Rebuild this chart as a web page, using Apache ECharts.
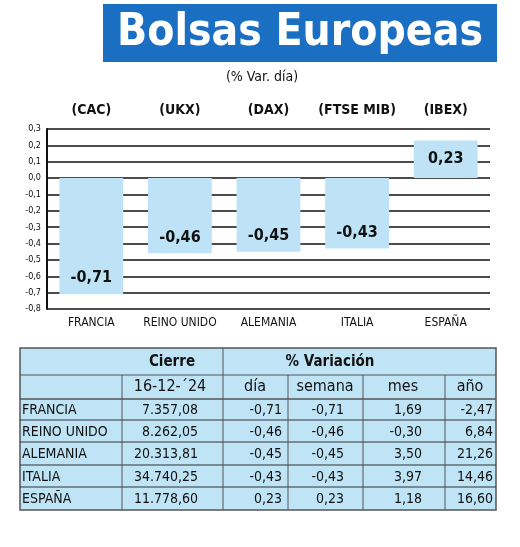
<!DOCTYPE html>
<html><head><meta charset="utf-8">
<script src="https://cdn.jsdelivr.net/npm/echarts@6/dist/echarts.min.js"></script>
<style>html,body{margin:0;background:#fff}#c{width:520px;height:547px}</style></head>
<body><div id="c"></div>
<script>
const countries = ['FRANCIA','REINO UNIDO','ALEMANIA','ITALIA','ESPAÑA'];
const indices = ['(CAC)','(UKX)','(DAX)','(FTSE MIB)','(IBEX)'];
const dayChange = [-0.71,-0.46,-0.45,-0.43,0.23];
const cierre = ['7.357,08','8.262,05','20.313,81','34.740,25','11.778,60'];
const dia = ['-0,71','-0,46','-0,45','-0,43','0,23'];
const semana = ['-0,71','-0,46','-0,45','-0,43','0,23'];
const mes = ['1,69','-0,30','3,50','3,97','1,18'];
const anio = ['-2,47','6,84','21,26','14,46','16,60'];
const colHeaders = ['16-12-´24','día','semana','mes','año'];

const F = '"DejaVu Sans Condensed","Liberation Sans Narrow",sans-serif';
const fmt = v => v.toFixed(2).replace('.', ',');
const g = [];
g.push({type:'rect',shape:{x:103,y:4,width:394,height:58},style:{fill:'#1b6fc2'}});
g.push({type:'text',x:300,y:34,style:{text:'Bolsas Europeas',fill:'#fff',font:'bold 44px '+F,align:'center',verticalAlign:'middle'}});
g.push({type:'text',x:262,y:77,style:{text:'(% Var. día)',fill:'#111',font:'14px '+F,align:'center',verticalAlign:'middle'}});
const ys=[348,375,399,420,442,465,487,510];
g.push({type:'rect',shape:{x:20,y:348,width:476,height:162},style:{fill:'#bfe4f6',stroke:'#555',lineWidth:1.5}});
g.push({type:'line',shape:{x1:20,y1:375,x2:496,y2:375},style:{stroke:'#555',lineWidth:1}});
g.push({type:'line',shape:{x1:20,y1:399,x2:496,y2:399},style:{stroke:'#555',lineWidth:1.5}});
for(let i=3;i<7;i++) g.push({type:'line',shape:{x1:20,y1:ys[i],x2:496,y2:ys[i]},style:{stroke:'#333',lineWidth:1.2}});
g.push({type:'line',shape:{x1:223,y1:348,x2:223,y2:510},style:{stroke:'#555',lineWidth:1}});
[122,288,363,445].forEach(x=>g.push({type:'line',shape:{x1:x,y1:375,x2:x,y2:510},style:{stroke:'#555',lineWidth:1}}));
g.push({type:'text',x:172,y:362,style:{text:'Cierre',fill:'#111',font:'bold 15px '+F,align:'center',verticalAlign:'middle'}});
g.push({type:'text',x:330,y:362,style:{text:'% Variación',fill:'#111',font:'bold 15px '+F,align:'center',verticalAlign:'middle'}});
const hx=[170,255,325,403,470];
colHeaders.forEach((t,i)=>g.push({type:'text',x:hx[i],y:387,style:{text:t,fill:'#111',font:'16px '+F,align:'center',verticalAlign:'middle'}}));
const cols=[cierre,dia,semana,mes,anio], rx=[198,282,344,422,493];
countries.forEach((c,r)=>{
  const y=(ys[r+2]+ys[r+3])/2+1;
  g.push({type:'text',x:22,y:y,style:{text:c,fill:'#111',font:'14px '+F,verticalAlign:'middle'}});
  cols.forEach((col,k)=>g.push({type:'text',x:rx[k],y:y,style:{text:col[r],fill:'#111',font:'14px '+F,align:'right',verticalAlign:'middle'}}));
});

const chart = echarts.init(document.getElementById('c'));
chart.setOption({
  animation:false,
  grid:{left:47,right:30,top:129,bottom:238},
  xAxis:[{type:'category',data:countries,axisLine:{show:false},axisTick:{show:false},
    axisLabel:{interval:0,color:'#111',fontFamily:F,fontSize:12,margin:8}},
   {type:'category',position:'top',data:indices,axisLine:{show:false},axisTick:{show:false},
    axisLabel:{interval:0,color:'#111',fontFamily:F,fontSize:14,fontWeight:'bold',margin:12}}],
  yAxis:{type:'value',min:-0.8,max:0.3,interval:0.1,
    axisLine:{show:true,lineStyle:{color:'#111',width:2}},axisTick:{show:false},
    splitLine:{lineStyle:{color:'#111',width:1.5}},
    axisLabel:{color:'#111',fontFamily:F,fontSize:9,formatter:v=>v.toFixed(1).replace('.',','),margin:6}},
  series:[{type:'bar',data:dayChange.map(v=>({value:v,label:{position:v<0?'insideBottom':'inside',distance:8}})),barWidth:'72%',
    itemStyle:{color:'#bfe3f6'},
    label:{show:true,formatter:p=>fmt(p.value),color:'#111',fontFamily:F,fontSize:16,fontWeight:'bold'}}],
  graphic:g
});
</script></body></html>
